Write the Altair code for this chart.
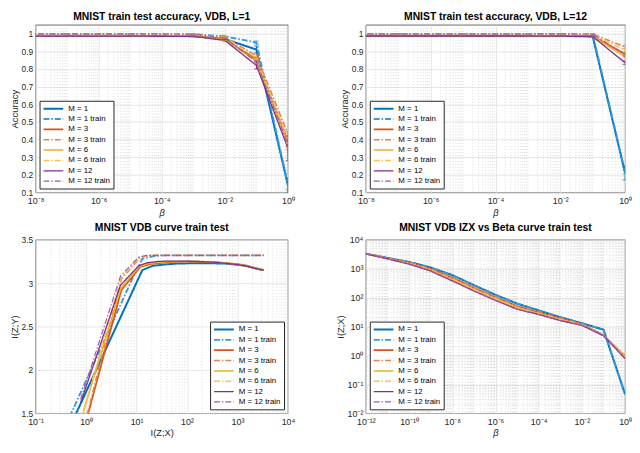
import altair as alt
import pandas as pd

FONT = "Liberation Sans"
SERIES = ["M = 1", "M = 1 train", "M = 3", "M = 3 train",
          "M = 6", "M = 6 train", "M = 12", "M = 12 train"]
COLORS = ["#0072BD", "#3A9AD9", "#D95319", "#E8804F",
          "#EDB120", "#F2C45A", "#7E2F8E", "#A05AAE"]
DASHES = [[1, 0], [6, 2, 1.5, 2]] * 4
WIDTHS = [2, 1.2] * 4

# ---------- accuracy panels (L=1, L=12) ----------
BETA_ACC = [1e-9, 1e-7, 1e-5, 1e-3, 1e-2, 1e-1, 1.0]

L1_M1 = [0.988, 0.988, 0.988, 0.986, 0.970, 0.910, 0.140]
L1_M1_TRAIN = [0.999, 0.999, 0.999, 0.998, 0.985, 0.950, 0.145]
L1_M3 = [0.988, 0.988, 0.988, 0.986, 0.968, 0.855, 0.390]
L1_M3_TRAIN = [0.999, 0.999, 0.999, 0.998, 0.980, 0.875, 0.430]
L1_M6 = [0.988, 0.988, 0.988, 0.986, 0.966, 0.845, 0.380]
L1_M6_TRAIN = [0.999, 0.999, 0.999, 0.998, 0.978, 0.862, 0.400]
L1_M12 = [0.986, 0.986, 0.986, 0.985, 0.962, 0.820, 0.350]
L1_M12_TRAIN = [0.999, 0.999, 0.999, 0.998, 0.976, 0.840, 0.370]

L1_ERR = [
    [0.002, 0.002, 0.002, 0.002, 0.004, 0.020, 0.040],
    [0.001, 0.001, 0.001, 0.001, 0.004, 0.008, 0.030],
    [0.002, 0.002, 0.002, 0.002, 0.005, 0.015, 0.030],
    [0.001, 0.001, 0.001, 0.001, 0.003, 0.010, 0.015],
    [0.002, 0.002, 0.002, 0.002, 0.005, 0.015, 0.030],
    [0.001, 0.001, 0.001, 0.001, 0.003, 0.010, 0.020],
    [0.002, 0.002, 0.002, 0.002, 0.005, 0.020, 0.070],
    [0.001, 0.001, 0.001, 0.001, 0.003, 0.010, 0.030],
]

L12_M1 = [0.988, 0.988, 0.988, 0.988, 0.987, 0.985, 0.210]
L12_M1_TRAIN = [0.999, 0.999, 0.999, 0.999, 0.999, 0.998, 0.215]
L12_M3 = [0.988, 0.988, 0.988, 0.988, 0.987, 0.985, 0.885]
L12_M3_TRAIN = [0.999, 0.999, 0.999, 0.999, 0.999, 0.998, 0.925]
L12_M6 = [0.988, 0.988, 0.988, 0.988, 0.987, 0.985, 0.870]
L12_M6_TRAIN = [0.999, 0.999, 0.999, 0.999, 0.999, 0.998, 0.905]
L12_M12 = [0.987, 0.987, 0.987, 0.987, 0.986, 0.984, 0.835]
L12_M12_TRAIN = [0.999, 0.999, 0.999, 0.999, 0.999, 0.998, 0.880]

L12_ERR = [
    [0.002, 0.002, 0.002, 0.002, 0.002, 0.003, 0.040],
    [0.001, 0.001, 0.001, 0.001, 0.001, 0.001, 0.010],
    [0.002, 0.002, 0.002, 0.002, 0.002, 0.003, 0.010],
    [0.001, 0.001, 0.001, 0.001, 0.001, 0.001, 0.010],
    [0.002, 0.002, 0.002, 0.002, 0.002, 0.003, 0.010],
    [0.001, 0.001, 0.001, 0.001, 0.001, 0.001, 0.010],
    [0.002, 0.002, 0.002, 0.002, 0.002, 0.003, 0.010],
    [0.001, 0.001, 0.001, 0.001, 0.001, 0.001, 0.010],
]

# ---------- information panels ----------
BETA_IZX = [1e-12, 1e-11, 1e-10, 1e-9, 1e-8, 1e-7, 1e-6,
            1e-5, 1e-4, 1e-3, 1e-2, 1e-1, 1.0]
IZX_M1 = [3300, 2350, 1700, 1100, 600, 270, 125, 62, 36, 21, 13, 7.8, 0.045]
IZX_M3 = [3300, 2270, 1600, 980, 490, 220, 103, 51, 31, 19, 12, 5.0, 0.93]
IZX_M6 = [3300, 2230, 1520, 900, 430, 195, 92, 45, 28, 17.5, 11.5, 4.9, 0.88]
IZX_M12 = [3300, 2200, 1450, 830, 380, 170, 80, 40, 26, 16, 11, 4.8, 0.78]

IZY_M1 = [3.15, 3.17, 3.19, 3.21, 3.225, 3.23, 3.23, 3.225, 3.215, 3.20, 3.15, 2.87, 0.05]
IZY_M1_TRAIN = [3.32, 3.32, 3.32, 3.32, 3.32, 3.32, 3.32, 3.32, 3.32, 3.31, 3.28, 3.02, 0.15]
IZY_M3 = [3.15, 3.17, 3.20, 3.22, 3.235, 3.245, 3.25, 3.245, 3.235, 3.22, 3.19, 2.92, 1.34]
IZY_M3_TRAIN = [3.32, 3.32, 3.32, 3.32, 3.32, 3.32, 3.32, 3.32, 3.32, 3.32, 3.30, 3.05, 1.36]
IZY_M6 = [3.155, 3.17, 3.20, 3.22, 3.24, 3.25, 3.25, 3.25, 3.24, 3.225, 3.195, 2.94, 1.52]
IZY_M6_TRAIN = [3.32, 3.32, 3.32, 3.32, 3.32, 3.32, 3.32, 3.32, 3.32, 3.32, 3.30, 3.06, 1.50]
IZY_M12 = [3.15, 3.17, 3.20, 3.22, 3.24, 3.25, 3.255, 3.255, 3.25, 3.235, 3.20, 2.975, 1.62]
IZY_M12_TRAIN = [3.32, 3.32, 3.32, 3.32, 3.32, 3.32, 3.32, 3.32, 3.32, 3.32, 3.30, 3.08, 1.66]


def acc_frames(values, errs):
    rows, err_rows, cap_rows = [], [], []
    for s, vals, es in zip(SERIES, values, errs):
        for b, v, e in zip(BETA_ACC, vals, es):
            rows.append({"x": b, "y": v, "series": s})
            err_rows.append({"x": b, "y": v - e, "y2": v + e, "series": s})
            cap_rows.append({"x": b, "y": v - e, "series": s})
            cap_rows.append({"x": b, "y": v + e, "series": s})
    return pd.DataFrame(rows), pd.DataFrame(err_rows), pd.DataFrame(cap_rows)


def xy_frame(xs_list, ys_list):
    rows = []
    for s, xs, ys in zip(SERIES, xs_list, ys_list):
        for a, b in zip(xs, ys):
            rows.append({"x": a, "y": b, "series": s})
    return pd.DataFrame(rows)


def minor_log(lo_exp, hi_exp, major):
    out = []
    for n in range(lo_exp, hi_exp):
        if 10.0 ** n not in major and n != lo_exp:
            out.append(10.0 ** n)
        for k in range(2, 10):
            out.append(k * 10.0 ** n)
    return out


SUP = "toString(round(log(datum.value)/LN10))"
for a, b in [("-", "⁻"), ("0", "⁰"), ("1", "¹"), ("2", "²"), ("3", "³"), ("4", "⁴"),
             ("5", "⁵"), ("6", "⁶"), ("7", "⁷"), ("8", "⁸"), ("9", "⁹")]:
    SUP = "replace(" + SUP + ", regexp('" + a + "', 'g'), '" + b + "')"
SUP = "'10' + " + SUP


def legend(orient):
    return alt.Legend(title=None, orient=orient, offset=4, fillColor="white",
                      strokeColor="#262626", padding=3, labelFontSize=8,
                      labelFont=FONT, labelColor="#000000",
                      symbolType="M-1,0H4", symbolSize=64,
                      rowPadding=1.5, labelOffset=16)


def panel(df, xscale, yscale, xaxis, yaxis, title, orient, w, h,
          minor_x=None, minor_y=None, errs=None):
    xenc = alt.X("x:Q", scale=xscale, axis=xaxis)
    yenc = alt.Y("y:Q", scale=yscale, axis=yaxis)
    leg = legend(orient)
    color = alt.Color("series:N", scale=alt.Scale(domain=SERIES, range=COLORS), legend=leg)
    layers = []
    if minor_x:
        layers.append(alt.Chart(pd.DataFrame({"x": minor_x})).mark_rule(
            color="#c4c4c4", strokeWidth=0.6, strokeDash=[1, 2]).encode(x=xenc))
    if minor_y:
        layers.append(alt.Chart(pd.DataFrame({"y": minor_y})).mark_rule(
            color="#c4c4c4", strokeWidth=0.6, strokeDash=[1, 2]).encode(y=yenc))
    layers.append(alt.Chart(df).mark_line(clip=True).encode(
        x=xenc, y=yenc, color=color,
        strokeDash=alt.StrokeDash("series:N", scale=alt.Scale(domain=SERIES, range=DASHES), legend=leg),
        strokeWidth=alt.StrokeWidth("series:N", scale=alt.Scale(domain=SERIES, range=WIDTHS), legend=leg),
    ))
    if errs is not None:
        err_df, cap_df = errs
        ecolor = alt.Color("series:N", scale=alt.Scale(domain=SERIES, range=COLORS), legend=None)
        layers.append(alt.Chart(err_df).mark_rule(strokeWidth=1, clip=True).encode(
            x=xenc, y=yenc, y2="y2:Q", color=ecolor))
        layers.append(alt.Chart(cap_df).mark_tick(orient="horizontal", size=5, thickness=1, clip=True).encode(
            x=xenc, y=yenc, color=ecolor))
    return alt.layer(*layers).properties(
        width=w, height=h,
        title=alt.TitleParams(title, fontSize=10.5, fontWeight="bold", offset=2, font=FONT, color="#000000"))


def logaxis(values, title, italic=False):
    return alt.Axis(values=values, labelExpr=SUP, title=title, labelFlush=False,
                    labelOverlap=False, labelFontSize=9,
                    titleFontStyle="italic" if italic else "normal")


acc_vals_1 = [L1_M1, L1_M1_TRAIN, L1_M3, L1_M3_TRAIN, L1_M6, L1_M6_TRAIN, L1_M12, L1_M12_TRAIN]
acc_vals_12 = [L12_M1, L12_M1_TRAIN, L12_M3, L12_M3_TRAIN, L12_M6, L12_M6_TRAIN, L12_M12, L12_M12_TRAIN]
d1, e1, c1 = acc_frames(acc_vals_1, L1_ERR)
d2, e2, c2 = acc_frames(acc_vals_12, L12_ERR)

acc_ticks = [0.1, 0.2, 0.3, 0.4, 0.5, 0.6, 0.7, 0.8, 0.9, 1.0]
acc_x_major = [1e-8, 1e-6, 1e-4, 1e-2, 1.0]
acc_yaxis = alt.Axis(values=acc_ticks, format=".1~f", title="Accuracy")

H_TOP = 170
H_BOT = 176
W_LEFT = 256
W_RIGHT = 263


def acc_panel(df, err, cap, title, w):
    return panel(df,
                 alt.Scale(type="log", domain=[1e-8, 1.0], nice=False),
                 alt.Scale(domain=[0.1, 1.05], nice=False, zero=False),
                 logaxis(acc_x_major, "β", italic=True), acc_yaxis, title,
                 "bottom-left", w, H_TOP,
                 minor_x=minor_log(-8, 0, acc_x_major), errs=(err, cap))


p1 = acc_panel(d1, e1, c1, "MNIST train test accuracy, VDB, L=1", W_LEFT)
p2 = acc_panel(d2, e2, c2, "MNIST train test accuracy, VDB, L=12", W_RIGHT)

izx_list = [IZX_M1, IZX_M1, IZX_M3, IZX_M3, IZX_M6, IZX_M6, IZX_M12, IZX_M12]
izy_list = [IZY_M1, IZY_M1_TRAIN, IZY_M3, IZY_M3_TRAIN, IZY_M6, IZY_M6_TRAIN, IZY_M12, IZY_M12_TRAIN]
d3 = xy_frame(izx_list, izy_list)
d4 = xy_frame([BETA_IZX] * 8, izx_list)

p3_xmajor = [0.1, 1, 10, 100, 1000, 10000]
p3 = panel(d3,
           alt.Scale(type="log", domain=[0.1, 10000], nice=False),
           alt.Scale(domain=[1.5, 3.5], nice=False, zero=False),
           logaxis(p3_xmajor, "I(Z;X)"),
           alt.Axis(values=[1.5, 2, 2.5, 3, 3.5], format=".1~f", title="I(Z;Y)"),
           "MNIST VDB curve train test", "bottom-right", W_LEFT, H_BOT,
           minor_x=minor_log(-1, 4, p3_xmajor))

p4_xmajor = [1e-12, 1e-10, 1e-8, 1e-6, 1e-4, 1e-2, 1.0]
p4_ymajor = [1e-2, 1e-1, 1.0, 10, 100, 1000, 10000]
p4 = panel(d4,
           alt.Scale(type="log", domain=[1e-12, 1.0], nice=False),
           alt.Scale(type="log", domain=[1e-2, 1e4], nice=False),
           logaxis(p4_xmajor, "β", italic=True),
           logaxis(p4_ymajor, "I(Z;X)"),
           "MNIST VDB IZX vs Beta curve train test", "bottom-left", W_RIGHT, H_BOT,
           minor_x=minor_log(-12, 0, p4_xmajor), minor_y=minor_log(-2, 4, p4_ymajor))

chart = alt.concat(p1, p2, p3, p4, columns=2, spacing={"row": 48, "column": 79},
                   bounds="flush").resolve_scale(
    color="independent", strokeDash="independent", strokeWidth="independent"
).properties(padding={"left": 0, "top": 0, "right": 0, "bottom": 0}).configure(
    font=FONT
).configure_view(stroke="#262626", strokeWidth=0.7).configure_axis(
    labelFontSize=8.5, titleFontSize=9.5, labelColor="#262626", titleColor="#262626",
    labelFont=FONT, titleFont=FONT, titleFontWeight="normal",
    gridColor="#e0e0e0", gridWidth=0.8, domain=False, ticks=False,
    titlePadding=2
).configure_axisX(labelPadding=4).configure_axisY(labelPadding=3)

chart.save("out.html", embed_options={"renderer": "svg", "actions": False})
